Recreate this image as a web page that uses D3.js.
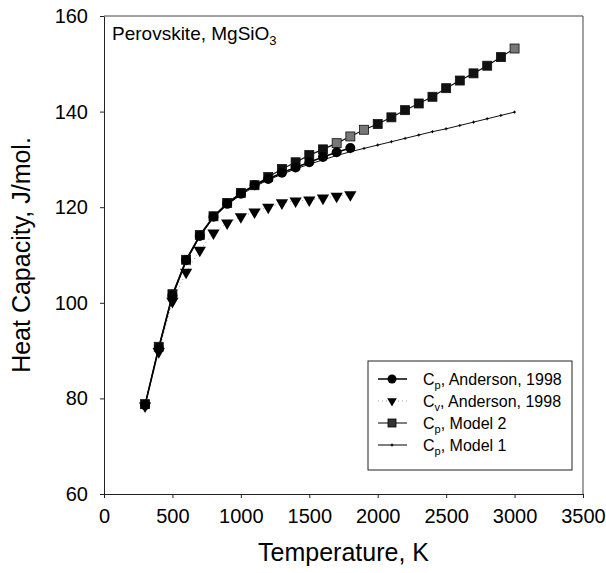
<!DOCTYPE html>
<html>
<head>
<meta charset="utf-8">
<script src="https://cdn.jsdelivr.net/npm/d3@7"></script>
<style>
  body { margin: 0; background: #fff; }
  text { font-family: "Liberation Sans", Arial, sans-serif; fill: #000; }
</style>
</head>
<body>
<div id="chart"></div>
<script>
// Temperatures (K)
const tAnderson = [300, 400, 500, 600, 700, 800, 900, 1000, 1100, 1200, 1300, 1400, 1500, 1600, 1700, 1800];
const tModel = [300, 400, 500, 600, 700, 800, 900, 1000, 1100, 1200, 1300, 1400, 1500, 1600, 1700, 1800,
  1900, 2000, 2100, 2200, 2300, 2400, 2500, 2600, 2700, 2800, 2900, 3000];

// Heat capacity, J/mol
const cpAnderson = [78.6, 90.5, 101.5, 108.9, 114.0, 118.0, 120.7, 122.8, 124.6, 125.9, 127.2, 128.3, 129.4, 130.5, 131.5, 132.4];
const cvAnderson = [78.4, 89.8, 100.3, 106.4, 111.0, 114.6, 116.7, 118.0, 119.0, 120.0, 120.9, 121.3, 121.5, 121.9, 122.3, 122.6];
const cpModel2 = [78.8, 90.8, 101.8, 109.0, 114.2, 118.1, 120.9, 123.0, 124.6, 126.3, 128.0, 129.4, 130.9, 132.1, 133.4, 134.8,
  136.2, 137.4, 138.8, 140.3, 141.7, 143.1, 144.9, 146.5, 148.0, 149.6, 151.4, 153.2];
const cpModel1 = [78.6, 90.4, 101.3, 108.6, 113.9, 117.8, 120.5, 122.6, 124.3, 125.7, 126.9, 128.0, 129.0, 129.9, 130.8, 131.6,
  132.3, 133.0, 133.7, 134.4, 135.1, 135.8, 136.4, 137.1, 137.8, 138.5, 139.2, 139.9];

const xTicks = [0, 500, 1000, 1500, 2000, 2500, 3000, 3500];
const yTicks = [60, 80, 100, 120, 140, 160];

const width = 606;
const height = 573;
const plot = { left: 104, right: 583, top: 16, bottom: 494 };

const x = d3.scaleLinear().domain([0, 3500]).range([plot.left, plot.right]);
const y = d3.scaleLinear().domain([60, 160]).range([plot.bottom, plot.top]);

const svg = d3.select("#chart")
  .append("svg")
  .attr("width", width)
  .attr("height", height);

// Axes
const xAxis = svg.append("g")
  .attr("transform", `translate(0, ${plot.bottom})`)
  .call(d3.axisBottom(x).tickValues(xTicks).tickFormat(d3.format("d"))
    .tickSize(4).tickPadding(11).tickSizeOuter(0));
const yAxis = svg.append("g")
  .attr("transform", `translate(${plot.left}, 0)`)
  .call(d3.axisLeft(y).tickValues(yTicks).tickFormat(d3.format("d"))
    .tickSize(4).tickPadding(12).tickSizeOuter(0));

[xAxis, yAxis].forEach(a => {
  a.select(".domain").attr("stroke", "#222");
  a.selectAll(".tick line").attr("stroke", "#222");
  a.selectAll(".tick text")
    .style("font-size", "20px")
    .style("font-family", "'Liberation Sans', Arial, sans-serif")
    .attr("fill", "#000");
});

// Frame top/right
svg.append("path")
  .attr("d", `M${plot.left},${plot.top}H${plot.right}V${plot.bottom}`)
  .attr("fill", "none")
  .attr("stroke", "#444");

// Axis titles
svg.append("text")
  .attr("x", (plot.left + plot.right) / 2)
  .attr("y", 561)
  .attr("text-anchor", "middle")
  .style("font-size", "25px")
  .text("Temperature, K");

svg.append("text")
  .attr("transform", `translate(30, ${(plot.top + plot.bottom) / 2}) rotate(-90)`)
  .attr("text-anchor", "middle")
  .style("font-size", "25px")
  .text("Heat Capacity, J/mol.");

// Title inside plot
const title = svg.append("text")
  .attr("x", 112)
  .attr("y", 40)
  .style("font-size", "19px");
title.append("tspan").text("Perovskite, MgSiO");
title.append("tspan").attr("dy", 5).style("font-size", "13px").text("3");

const line = d3.line().x(d => x(d[0])).y(d => y(d[1]));
const zip = (ts, vs) => ts.map((t, i) => [t, vs[i]]);

const cvPts = zip(tAnderson, cvAnderson);
const cpPts = zip(tAnderson, cpAnderson);
const m2Pts = zip(tModel, cpModel2);
const m1Pts = zip(tModel, cpModel1);

// Cv dotted line
svg.append("path").datum(cvPts)
  .attr("d", line).attr("fill", "none")
  .attr("stroke", "#999").attr("stroke-width", 1).attr("stroke-dasharray", "1,3");

// Model 2 line
svg.append("path").datum(m2Pts)
  .attr("d", line).attr("fill", "none").attr("stroke", "#111").attr("stroke-width", 1.2);

// Model 1 line
svg.append("path").datum(m1Pts)
  .attr("d", line).attr("fill", "none").attr("stroke", "#111").attr("stroke-width", 1);

// Cp Anderson line
svg.append("path").datum(cpPts)
  .attr("d", line).attr("fill", "none").attr("stroke", "#000").attr("stroke-width", 1.5);

const tri = d3.symbol().type(d3.symbolTriangle).size(65);

svg.selectAll(".cv").data(cvPts).enter().append("path")
  .attr("transform", d => `translate(${x(d[0])}, ${y(d[1])}) rotate(180)`)
  .attr("d", tri).attr("fill", "#000");

svg.selectAll(".m2").data(m2Pts).enter().append("rect")
  .attr("x", d => x(d[0]) - 4.5).attr("y", d => y(d[1]) - 4.5)
  .attr("width", 9).attr("height", 9)
  .attr("fill", d => (d[0] >= 1700 && d[0] <= 1900) || d[0] === 3000 ? "#777" : "#111")
  .attr("stroke", "#111").attr("stroke-width", 0.8);

svg.selectAll(".m1").data(m1Pts).enter().append("path")
  .attr("d", d => `M${x(d[0]) - 1.5},${y(d[1])}h3M${x(d[0])},${y(d[1]) - 1.5}v3`)
  .attr("stroke", "#000").attr("stroke-width", 1);

svg.selectAll(".cp").data(cpPts).enter().append("circle")
  .attr("cx", d => x(d[0])).attr("cy", d => y(d[1])).attr("r", 5)
  .attr("fill", "#000");

// Legend
const legend = svg.append("g");
legend.append("rect")
  .attr("x", 368).attr("y", 361).attr("width", 204).attr("height", 109)
  .attr("fill", "#fff").attr("stroke", "#222");

const entries = [
  { sub: "p", label: ", Anderson, 1998", kind: "circle" },
  { sub: "v", label: ", Anderson, 1998", kind: "tri" },
  { sub: "p", label: ", Model 2", kind: "square" },
  { sub: "p", label: ", Model 1", kind: "plus" }
];

entries.forEach((e, i) => {
  const cy = 379 + i * 22;
  const g = legend.append("g");
  g.append("line")
    .attr("x1", 378).attr("x2", 407).attr("y1", cy).attr("y2", cy)
    .attr("stroke", e.kind === "tri" ? "#999" : "#000")
    .attr("stroke-width", e.kind === "circle" ? 1.5 : 1)
    .attr("stroke-dasharray", e.kind === "tri" ? "1,3" : null);
  if (e.kind === "circle") {
    g.append("circle").attr("cx", 392).attr("cy", cy).attr("r", 4.5).attr("fill", "#000");
  } else if (e.kind === "tri") {
    g.append("path").attr("transform", `translate(392, ${cy}) rotate(180)`)
      .attr("d", d3.symbol().type(d3.symbolTriangle).size(40)).attr("fill", "#000");
  } else if (e.kind === "square") {
    g.append("rect").attr("x", 388).attr("y", cy - 4).attr("width", 8).attr("height", 8)
      .attr("fill", "#333").attr("stroke", "#000").attr("stroke-width", 0.8);
  } else {
    g.append("path").attr("d", `M390.5,${cy}h3M392,${cy - 1.5}v3`).attr("stroke", "#000");
  }
  const t = g.append("text").attr("x", 423).attr("y", cy + 6).style("font-size", "16px");
  t.append("tspan").text("C");
  t.append("tspan").attr("dy", 4).style("font-size", "11px").text(e.sub);
  t.append("tspan").attr("dy", -4).text(e.label);
});
</script>
</body>
</html>
